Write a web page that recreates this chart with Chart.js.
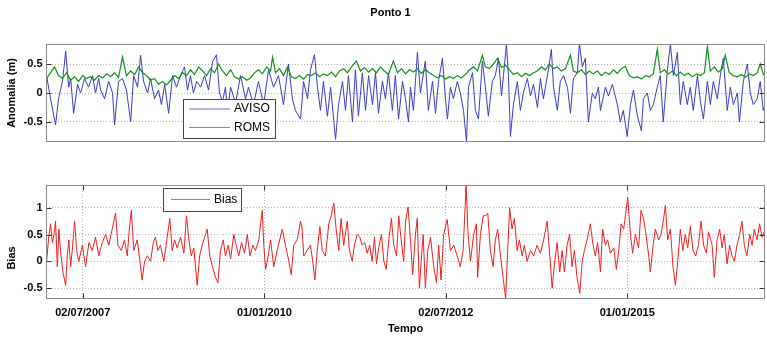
<!DOCTYPE html>
<html><head><meta charset="utf-8">
<script src="https://cdn.jsdelivr.net/npm/chart.js@4.4.1/dist/chart.umd.min.js"></script>
<style>
html,body{margin:0;padding:0;background:#fff;}
#wrap{position:relative;width:767px;height:338px;overflow:hidden;}
canvas{position:absolute;left:0;top:0;}
</style></head><body>
<div id="wrap"><canvas id="cTop" width="767" height="338"></canvas><canvas id="cBot" width="767" height="338"></canvas></div>
<script>
// ---- data (days since startDate) ----
const startDate = '2007-01-01';
const xTickLabels = ['02/07/2007','01/01/2010','02/07/2012','01/01/2015'];
const topYTicks = [-0.5, 0, 0.5];
const botYTicks = [-0.5, 0, 0.5, 1];

const avisoDays = [
0,20,45,60,80,96,111,121,136,156,
171,191,211,231,246,262,272,292,312,332,
342,362,382,402,423,438,458,473,488,508,
523,543,563,578,594,614,634,654,674,694,
709,724,739,755,775,795,815,835,855,870,
885,900,910,926,951,976,1001,1016,1041,1066,
1092,1117,1142,1167,1192,1217,1237,1252,1278,1293,
1313,1328,1348,1363,1378,1393,1413,1429,1454,1469,
1489,1504,1519,1539,1554,1569,1589,1605,1620,1640,
1655,1670,1690,1705,1720,1740,1755,1771,1791,1806,
1821,1831,1846,1866,1881,1906,1921,1942,1957,1972,
1992,2007,2017,2032,2047,2067,2082,2098,2113,2123,
2143,2158,2173,2193,2208,2223,2243,2258,2274,2289,
2299,2314,2324,2334,2349,2369,2384,2399,2419,2435,
2450,2470,2485,2500,2525,2540,2551,2570,2585,2601,
2621,2636,2651,2671,2681,2696,2711,2726,2746,2761,
2777,2787,2812,2827,2847,2872,2887,2902,2922,2938,
2953,2973,2993,3003,3023,3038,3053,3073,3088,3103,
3124,3139,3154,3174,3189,3204,3224,3239,3254,3275,
3290,3305,3325,3340,3355,3375,3390,3405,3425,3441,
3456,3476,3486,3506,3526,3541,3556,3576,3591,3606,3615];
const avisoVals = [
0.30,-0.10,-0.55,-0.10,0.20,0.72,0.10,0.25,-0.35,0.15,
0.00,0.25,0.10,0.30,0.00,0.25,0.05,-0.10,0.20,0.00,
-0.55,0.20,0.25,0.05,-0.50,0.30,0.10,0.65,0.20,0.00,
0.25,-0.10,0.05,-0.20,0.15,-0.35,0.30,0.10,0.30,0.45,
0.05,0.30,0.00,0.20,0.10,0.30,0.05,0.54,0.66,0.00,
-0.15,0.10,-0.30,0.10,-0.17,0.30,-0.10,0.10,-0.20,0.20,
-0.20,0.40,0.10,0.30,-0.20,0.50,-0.10,-0.30,-0.45,0.20,
-0.10,0.40,0.66,0.10,-0.30,0.20,-0.40,0.10,-0.80,-0.20,
0.20,-0.30,0.30,-0.50,0.40,-0.40,0.35,-0.30,0.30,-0.20,
0.35,-0.35,0.20,-0.10,0.35,-0.30,0.30,-0.45,0.20,-0.10,
-0.50,0.10,-0.30,0.70,0.00,0.55,-0.30,0.20,-0.35,0.20,
0.60,-0.10,-0.45,0.10,-0.10,0.20,0.00,-0.30,-0.85,0.10,
0.35,-0.30,-0.45,0.55,0.10,-0.40,0.20,0.30,0.60,-0.05,
0.30,0.85,0.30,-0.75,-0.20,0.20,-0.30,0.00,0.25,-0.05,
0.15,-0.25,0.25,-0.10,0.40,0.75,0.10,-0.30,0.20,0.30,
0.10,-0.35,0.25,0.35,0.85,0.45,0.60,-0.50,0.00,-0.10,
0.10,-0.30,0.10,-0.05,0.15,-0.20,-0.50,-0.30,-0.75,-0.20,
0.05,-0.40,-0.65,-0.10,0.00,-0.30,-0.20,0.10,0.30,-0.50,
0.40,0.85,0.30,0.70,-0.20,0.20,-0.20,0.10,-0.30,0.30,
-0.15,-0.45,0.20,-0.20,0.20,-0.10,0.30,0.60,-0.30,0.10,
-0.20,0.00,-0.50,0.20,0.50,0.00,-0.20,-0.10,0.20,-0.30,-0.20];

const romsDays = [
0,20,40,60,80,101,121,141,161,181,
201,221,241,262,282,302,322,342,362,382,
402,423,443,463,483,503,523,543,563,583,
604,624,644,664,684,704,724,744,765,785,
805,825,845,865,885,905,926,946,966,986,
1006,1026,1046,1066,1086,1107,1127,1137,1152,1172,
1192,1212,1232,1252,1273,1293,1313,1333,1353,1373,
1393,1413,1434,1454,1474,1494,1514,1534,1559,1579,
1600,1620,1640,1660,1680,1700,1720,1745,1766,1786,
1806,1826,1846,1866,1886,1906,1926,1947,1967,1987,
2007,2027,2047,2067,2087,2108,2128,2148,2168,2193,
2208,2228,2248,2269,2289,2309,2329,2349,2369,2389,
2409,2429,2450,2470,2490,2510,2530,2550,2570,2590,
2611,2636,2651,2671,2691,2711,2731,2751,2772,2792,
2812,2832,2852,2872,2892,2912,2932,2953,2973,2993,
3013,3033,3053,3073,3088,3109,3129,3149,3169,3189,
3209,3229,3249,3270,3290,3310,3325,3340,3360,3380,
3400,3415,3435,3456,3476,3496,3516,3536,3556,3576,
3591,3607,3615];
const romsVals = [
0.25,0.35,0.45,0.30,0.25,0.35,0.22,0.28,0.20,0.30,
0.25,0.28,0.22,0.30,0.26,0.33,0.28,0.35,0.27,0.62,
0.30,0.38,0.32,0.45,0.35,0.30,0.22,0.25,0.15,0.20,
0.14,0.22,0.30,0.25,0.35,0.30,0.40,0.32,0.45,0.38,
0.30,0.42,0.35,0.50,0.38,0.30,0.40,0.28,0.24,0.28,
0.22,0.26,0.35,0.40,0.33,0.45,0.38,0.62,0.35,0.42,
0.30,0.45,0.28,0.25,0.30,0.24,0.32,0.30,0.35,0.28,
0.33,0.30,0.36,0.28,0.38,0.42,0.35,0.45,0.55,0.38,
0.44,0.36,0.42,0.35,0.45,0.38,0.32,0.55,0.35,0.42,
0.33,0.40,0.36,0.42,0.34,0.40,0.35,0.30,0.26,0.30,
0.24,0.28,0.25,0.30,0.26,0.32,0.40,0.45,0.38,0.65,
0.45,0.42,0.50,0.60,0.44,0.48,0.40,0.32,0.35,0.28,
0.34,0.30,0.35,0.38,0.45,0.40,0.50,0.42,0.45,0.38,
0.42,0.65,0.38,0.35,0.40,0.32,0.38,0.33,0.38,0.30,
0.36,0.32,0.40,0.34,0.42,0.46,0.30,0.26,0.28,0.24,
0.30,0.28,0.33,0.75,0.35,0.40,0.33,0.38,0.30,0.36,
0.30,0.34,0.28,0.33,0.30,0.35,0.80,0.38,0.45,0.36,
0.42,0.65,0.35,0.30,0.28,0.32,0.27,0.33,0.30,0.35,
0.50,0.32,0.35];

const biasDays = [
0,12,20,29,37,45,54,62,70,82,
96,104,112,121,129,141,151,162,180,196,
213,230,246,263,280,297,313,330,347,359,
376,392,406,414,426,439,456,468,481,493,
507,523,537,548,560,573,590,607,620,632,
644,657,674,691,704,716,728,741,758,770,
783,795,808,821,835,850,862,875,889,900,
914,926,942,954,967,981,996,1010,1023,1038,
1051,1068,1085,1093,1102,1115,1127,1143,1160,1186,
1202,1219,1231,1244,1261,1278,1286,1294,1311,1328,
1339,1350,1362,1375,1387,1403,1420,1432,1445,1457,
1470,1482,1495,1513,1524,1538,1549,1563,1576,1588,
1601,1613,1626,1638,1650,1660,1671,1685,1697,1709,
1722,1735,1747,1761,1772,1784,1797,1806,1819,1831,
1842,1856,1865,1876,1885,1895,1906,1918,1932,1948,
1962,1973,1985,1998,2016,2032,2049,2066,2082,2096,
2111,2121,2133,2149,2163,2169,2183,2197,2210,2220,
2233,2247,2258,2270,2284,2297,2310,2320,2330,2342,
2354,2368,2379,2393,2404,2418,2435,2451,2468,2485,
2501,2519,2532,2544,2557,2569,2582,2594,2606,2619,
2632,2644,2656,2669,2683,2695,2706,2720,2736,2750,
2761,2773,2787,2798,2812,2823,2837,2854,2867,2879,
2891,2904,2914,2924,2938,2949,2963,2979,2991,3004,
3018,3030,3038,3052,3063,3080,3092,3105,3114,3125,
3139,3152,3164,3176,3189,3201,3214,3226,3239,3253,
3266,3280,3293,3306,3320,3331,3349,3360,3374,3387,
3399,3410,3424,3437,3449,3461,3474,3487,3499,3511,
3524,3538,3550,3561,3575,3588,3600,3611,3615];
const biasVals = [
0.00,0.50,0.70,0.35,0.50,0.75,-0.10,0.60,0.20,-0.20,
-0.45,0.10,0.40,-0.10,0.20,0.75,0.20,0.00,0.30,-0.10,
0.35,0.20,0.45,0.10,0.35,0.50,0.30,0.60,0.90,0.30,
0.20,0.40,0.10,0.50,0.95,0.20,0.40,0.05,-0.35,0.00,
0.10,0.00,0.35,0.45,0.20,0.30,0.00,0.45,0.80,0.20,
0.40,0.25,0.45,0.15,0.85,0.40,0.10,0.25,-0.45,0.10,
0.30,0.45,0.60,0.10,-0.10,-0.30,-0.40,0.20,0.40,0.10,
0.30,0.05,0.50,0.30,0.10,0.35,0.15,0.50,0.10,0.30,
0.20,0.40,0.95,0.30,-0.15,0.10,0.40,-0.10,0.20,0.60,
0.30,0.00,-0.25,0.30,0.40,0.75,0.60,0.10,0.20,0.30,
0.00,-0.35,0.20,0.65,0.20,0.10,0.70,0.85,1.09,0.60,
0.20,0.80,0.30,0.75,0.20,0.00,0.30,0.50,0.45,0.30,
0.35,0.15,0.30,0.00,0.45,-0.05,0.25,0.50,0.00,-0.15,
0.40,0.80,0.30,0.10,0.85,0.40,0.00,0.75,1.01,0.40,
-0.25,0.50,0.80,-0.50,0.00,0.50,-0.50,0.20,0.45,-0.10,
-0.40,0.30,-0.35,0.50,0.78,0.20,0.30,0.10,-0.10,0.20,
1.43,0.50,0.00,0.50,0.70,-0.30,0.50,0.85,0.85,0.90,
0.20,-0.10,0.40,0.60,0.10,-0.30,-0.70,0.20,1.00,0.60,
0.80,0.20,0.40,0.10,0.30,0.00,0.20,0.10,0.30,0.15,
0.40,0.75,0.10,-0.50,0.00,0.35,-0.20,0.20,-0.20,0.30,
0.50,-0.10,0.20,-0.30,-0.60,0.00,0.20,0.40,0.70,0.30,
0.10,0.35,-0.20,0.60,0.30,0.40,0.15,0.25,-0.15,0.20,
0.70,0.60,0.90,1.20,0.50,0.15,0.50,0.25,0.95,0.80,
0.45,0.10,-0.20,0.30,0.60,0.40,0.50,0.80,1.05,0.40,
0.60,-0.10,-0.45,0.00,0.60,0.20,0.50,0.25,0.65,0.20,
0.10,0.30,0.75,0.30,0.15,0.55,0.30,-0.30,0.40,0.60,
0.25,0.50,-0.05,0.30,0.10,0.00,0.30,0.50,0.75,0.30,
0.10,0.50,0.30,0.60,0.40,0.70,0.45,0.55,0.40];

// ---- helpers ----
const DAY = 86400000;
const t0 = Date.parse(startDate + 'T00:00:00Z');
function labelToDay(s){ const [d,m,y] = s.split('/'); return Math.round((Date.parse(`${y}-${m}-${d}T00:00:00Z`) - t0)/DAY); }
const xTickDays = xTickLabels.map(labelToDay);
const pts = (days, vals) => days.map((d,i)=>({x:d, y:vals[i]}));

const FONT = "'Liberation Sans', Arial, Helvetica, sans-serif";
const tickFont = {family: FONT, size: 11, weight: 'bold'};
const axTitleFont = {family: FONT, size: 11, weight: 'bold'};

const decor = {
  id: 'decor',
  afterDatasetsDraw(chart, args, o) {
    const {ctx, chartArea: a} = chart;
    const L = Math.round(a.left)+0.5, R = Math.round(a.right)-0.5, T = Math.round(a.top)+0.5, B = Math.round(a.bottom)-0.5;
    ctx.save();
    // frame
    ctx.strokeStyle = '#8a8a8a'; ctx.lineWidth = 1;
    ctx.strokeRect(L, T, R-L, B-T);
    // inward tick marks
    ctx.strokeStyle = '#333';
    ctx.beginPath();
    const ys = chart.scales.y;
    ys.ticks.forEach(t => { const p = Math.round(ys.getPixelForValue(t.value))+0.5;
      ctx.moveTo(L, p); ctx.lineTo(L+5, p); ctx.moveTo(R, p); ctx.lineTo(R-5, p); });
    if (o.xTicks) { const xs = chart.scales.x;
      xs.ticks.forEach(t => { const p = Math.round(xs.getPixelForValue(t.value))+0.5;
        ctx.moveTo(p, T); ctx.lineTo(p, T+5); ctx.moveTo(p, B); ctx.lineTo(p, B-5); }); }
    ctx.stroke();
    // legend box
    const lg = o.legend;
    ctx.fillStyle = '#fff';
    ctx.fillRect(lg.x, lg.y, lg.w, lg.h);
    ctx.strokeStyle = '#444';
    ctx.strokeRect(lg.x+0.5, lg.y+0.5, lg.w, lg.h);
    ctx.font = `12px ${FONT}`; ctx.textBaseline = 'middle'; ctx.textAlign = 'left';
    chart.data.datasets.forEach((ds, i) => {
      const yy = lg.y + lg.rows[i];
      ctx.strokeStyle = ds.borderColor; ctx.lineWidth = 1; ctx.globalAlpha = 0.75;
      ctx.beginPath(); ctx.moveTo(lg.x + lg.l0, yy); ctx.lineTo(lg.x + lg.l1, yy); ctx.stroke();
      ctx.globalAlpha = 1;
      ctx.fillStyle = '#000'; ctx.fillText(ds.label, lg.x + lg.tx, yy);
    });
    // free texts
    (o.texts || []).forEach(t => {
      ctx.save(); ctx.translate(t.x, t.y); ctx.rotate(t.rot || 0);
      ctx.font = t.font; ctx.fillStyle = '#000'; ctx.textAlign = 'center'; ctx.textBaseline = 'middle';
      ctx.fillText(t.text, 0, 0); ctx.restore();
    });
    ctx.restore();
  }
};

function yScale(min, max, ticks, title) {
  return {
    type: 'linear', min, max,
    afterBuildTicks: s => { s.ticks = ticks.map(v => ({value: v})); },
    afterFit: s => { s.width = 46; },
    grid: {color: '#b0b0b0', lineWidth: 1, drawTicks: false},
    border: {display: false, dash: [1, 2]},
    ticks: {font: tickFont, color: '#000', padding: 3.5, callback: (v) => String(v)},
    title: title ? {display: true, text: title, font: axTitleFont, color: '#000', padding: {top: 5, bottom: 0}} : {display: false}
  };
}

const common = {
  responsive: false, animation: false, events: [],
  plugins: {legend: {display: false}, tooltip: {enabled: false}, title: {display: false}}
};

new Chart(document.getElementById('cTop'), {
  type: 'line',
  data: {datasets: [
    {label: 'AVISO', data: pts(avisoDays, avisoVals), borderColor: '#3a3ac4', borderWidth: 1, pointRadius: 0, tension: 0, order: 1},
    {label: 'ROMS', data: pts(romsDays, romsVals), borderColor: '#14901a', borderWidth: 1.2, pointRadius: 0, tension: 0, order: 0}
  ]},
  options: Object.assign({}, common, {
    layout: {padding: {top: 44, right: 2, bottom: 196, left: 0}},
    scales: {
      x: {type: 'linear', min: -3, max: 3615, display: false},
      y: yScale(-0.845, 0.845, topYTicks, 'Anomalia (m)')
    },
    plugins: Object.assign({}, common.plugins, {decor: {
      xTicks: false,
      legend: {x: 183, y: 99, w: 92, h: 39, rows: [10, 28.5], l0: 6, l1: 47, tx: 51},
      texts: [{text: 'Ponto 1', x: 390.5, y: 13, font: `bold 11px ${FONT}`}]
    }})
  }),
  plugins: [decor]
});

new Chart(document.getElementById('cBot'), {
  type: 'line',
  data: {datasets: [
    {label: 'Bias', data: pts(biasDays, biasVals), borderColor: '#ee2020', borderWidth: 1, pointRadius: 0, tension: 0}
  ]},
  options: Object.assign({}, common, {
    layout: {padding: {top: 185, right: 2, bottom: 0, left: 0}},
    scales: {
      x: {
        type: 'linear', min: -3, max: 3615,
        afterBuildTicks: s => { s.ticks = xTickDays.map(v => ({value: v})); },
        afterFit: s => { s.height = 39; },
        grid: {color: '#b0b0b0', lineWidth: 1, drawTicks: false},
        border: {display: false, dash: [1, 2]},
        ticks: {font: tickFont, color: '#000', padding: 7.4, maxRotation: 0, autoSkip: false, callback: (v, i) => xTickLabels[i]},
        title: {display: true, text: 'Tempo', font: axTitleFont, color: '#000', padding: {top: 0, bottom: 2.4}}
      },
      y: yScale(-0.703, 1.4235, botYTicks, null)
    },
    plugins: Object.assign({}, common.plugins, {decor: {
      xTicks: true,
      legend: {x: 163, y: 188, w: 78, h: 23, rows: [11.5], l0: 8, l1: 47, tx: 51},
      texts: [{text: 'Bias', x: 11.7, y: 258, rot: -Math.PI/2, font: `bold 11px ${FONT}`}]
    }})
  }),
  plugins: [decor]
});
</script>
</body></html>
